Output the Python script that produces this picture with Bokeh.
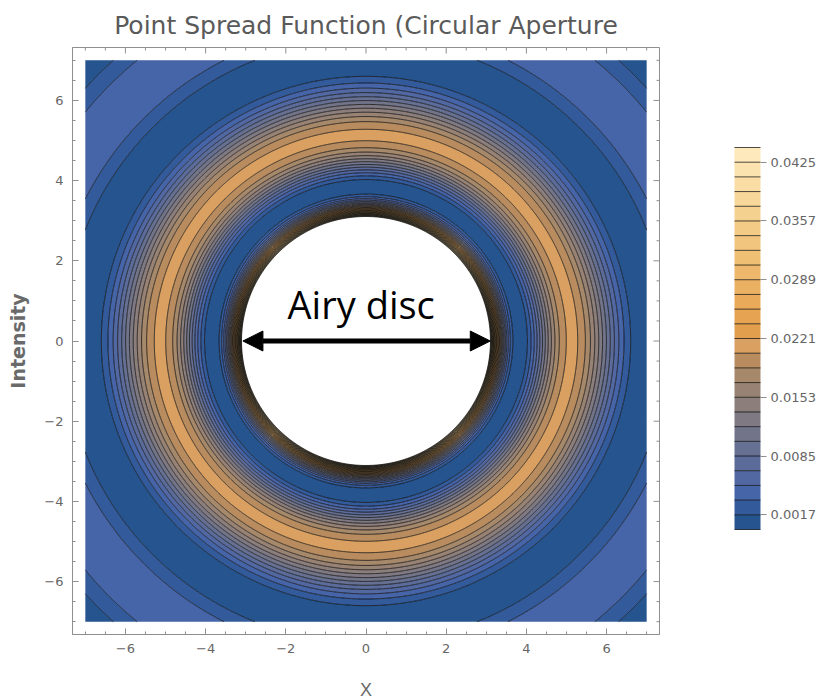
import numpy as np
from bokeh.plotting import figure
from bokeh.models import (Range1d, SingleIntervalTicker, FixedTicker,
                          PrintfTickFormatter, Arrow, NormalHead)
from bokeh.core.properties import value
from bokeh.embed import file_html
from bokeh.resources import INLINE

# ---------------- data ----------------
title_text = "Point Spread Function (Circular Aperture"
x_label = "X"
y_label = "Intensity"
x_extent = [-7.0, 7.0]
y_extent = [-7.0, 7.0]
frame_pad = 0.32
psf_scale = 1.19            # Airy pattern intensity factor
contour_levels = [0.0, 0.0017, 0.0034, 0.0051, 0.0068, 0.0085, 0.0102, 0.0119, 0.0136,
                  0.0153, 0.0170, 0.0187, 0.0204, 0.0221, 0.0238, 0.0255, 0.0272, 0.0289,
                  0.0306, 0.0323, 0.0340, 0.0357, 0.0374, 0.0391, 0.0408, 0.0425, 0.0442]
band_colors = ["#25548F", "#335B9B", "#4664A8", "#5168A2", "#5B6B9A", "#667092",
               "#72758A", "#7E7983", "#8B7E7B", "#978274", "#A6886A", "#B88C5E",
               "#D9A062", "#E29E4D", "#E6A452", "#E9AA59", "#EBB162", "#EDB86B",
               "#EFBF74", "#F1C57D", "#F3CB86", "#F5D190", "#F7D79A", "#F9DDA5",
               "#FBE3B0", "#FDE9BC"]
cbar_ticks = [0.0017, 0.0085, 0.0153, 0.0221, 0.0289, 0.0357, 0.0425]
major_ticks = [-6, -4, -2, 0, 2, 4, 6]
minor_ticks = [-7, -6.5, -5.5, -5, -4.5, -3.5, -3, -2.5, -1.5, -1, -0.5,
               0.5, 1, 1.5, 2.5, 3, 3.5, 4.5, 5, 5.5, 6.5, 7]
neg_tick_labels = {-6: "\u22126", -4: "\u22124", -2: "\u22122"}
airy_arrow_x = [-3.07, 3.10]
airy_arrow_y = [0.0, 0.0]
airy_label = ["Airy disc"]
airy_label_x = [-0.12]
airy_label_y = [0.92]

# ---------------- field: Airy PSF ----------------
xs = np.linspace(x_extent[0], x_extent[1], 561)
ys = np.linspace(y_extent[0], y_extent[1], 561)
X, Y = np.meshgrid(xs, ys)
R = np.hypot(X, Y)
tau = np.linspace(0.0, np.pi, 401)
h = tau[1] - tau[0]
acc = np.zeros_like(R)
for i, t in enumerate(tau):
    w = h * (0.5 if i in (0, len(tau) - 1) else 1.0)
    acc += w * np.cos(t - R * np.sin(t))
J1 = acc / np.pi
ratio = np.divide(2.0 * J1, R, out=np.ones_like(R), where=R > 1e-12)
Z = psf_scale * ratio ** 2

# ---------------- figure ----------------
x_lo, x_hi = x_extent[0] - frame_pad, x_extent[1] + frame_pad
y_lo, y_hi = y_extent[0] - frame_pad, y_extent[1] + frame_pad
p = figure(width=836, height=700, frame_width=587, frame_height=587,
           x_range=Range1d(x_lo, x_hi), y_range=Range1d(y_lo, y_hi),
           output_backend="svg", toolbar_location=None,
           min_border_left=72, min_border_top=47, min_border_bottom=66,
           min_border_right=177, title=title_text)
p.grid.visible = False
p.outline_line_color = "#8f8f8f"
p.background_fill_color = "white"
p.border_fill_color = "white"

p.title.text_font = "DejaVu Sans"
p.title.text_font_size = "25px"
p.title.text_font_style = "normal"
p.title.text_color = "#5a5a5a"
p.title.align = "center"
p.title.standoff = 15

cr = p.contour(X, Y, Z, contour_levels, fill_color=band_colors,
               line_color="black", line_alpha=0.7, line_width=1)

for ax in (p.xaxis[0], p.yaxis[0]):
    ax.ticker = SingleIntervalTicker(interval=2, num_minor_ticks=4)
    ax.axis_line_color = "#8f8f8f"
    ax.major_tick_line_color = "#8f8f8f"
    ax.minor_tick_line_color = "#8f8f8f"
    ax.major_tick_in = 6
    ax.major_tick_out = 0
    ax.minor_tick_in = 3
    ax.minor_tick_out = 0
    ax.major_label_text_font = "DejaVu Sans"
    ax.major_label_text_font_size = "13px"
    ax.major_label_text_color = "#666666"
    ax.major_label_standoff = 9
    ax.major_label_overrides = neg_tick_labels

p.xaxis[0].axis_label = x_label
p.xaxis[0].axis_label_text_font = "Liberation Sans"
p.xaxis[0].axis_label_text_font_size = "18px"
p.xaxis[0].axis_label_text_font_style = "normal"
p.xaxis[0].axis_label_text_color = "#6a6a6a"
p.xaxis[0].axis_label_standoff = 24

p.yaxis[0].axis_label = y_label
p.yaxis[0].axis_label_text_font = "DejaVu Sans"
p.yaxis[0].axis_label_text_font_size = "19px"
p.yaxis[0].axis_label_text_font_style = "bold"
p.yaxis[0].axis_label_text_color = "#6a6a6a"
p.yaxis[0].axis_label_standoff = 12

# frame ticks on the top and right edges (inward, like the bottom/left ones)
tick_col = "#8f8f8f"
p.ray(x=major_ticks, y=[y_hi] * len(major_ticks), length=6, length_units="screen",
      angle=-90, angle_units="deg", line_color=tick_col, line_width=1)
p.ray(x=minor_ticks, y=[y_hi] * len(minor_ticks), length=3, length_units="screen",
      angle=-90, angle_units="deg", line_color=tick_col, line_width=1)
p.ray(x=[x_hi] * len(major_ticks), y=major_ticks, length=6, length_units="screen",
      angle=180, angle_units="deg", line_color=tick_col, line_width=1)
p.ray(x=[x_hi] * len(minor_ticks), y=minor_ticks, length=3, length_units="screen",
      angle=180, angle_units="deg", line_color=tick_col, line_width=1)

cb = cr.construct_color_bar(
    width=26, height=382, location=(662, 105),
    margin=0, padding=0,
    major_label_text_font="DejaVu Sans",
    major_label_text_font_size="13px",
    major_label_text_color="#666666",
    major_tick_line_color="#8f8f8f",
    major_tick_out=6, major_tick_in=0,
    label_standoff=4,
    bar_line_color="#9a9a9a",
    border_line_color=None,
    background_fill_alpha=0.0,
)
cb.ticker = FixedTicker(ticks=cbar_ticks)
cb.formatter = PrintfTickFormatter(format="%.4f")
p.add_layout(cb, "center")

p.text(x=airy_label_x, y=airy_label_y, text=airy_label,
       text_font=value("Open Sans"), text_font_size="38px",
       text_align="center", text_baseline="alphabetic", text_color="black")

p.add_layout(Arrow(x_start=airy_arrow_x[0], y_start=airy_arrow_y[0],
                   x_end=airy_arrow_x[1], y_end=airy_arrow_y[1],
                   line_width=5, line_color="black",
                   start=NormalHead(size=20, fill_color="black", line_color="black"),
                   end=NormalHead(size=20, fill_color="black", line_color="black")))

open("out.html", "w").write(file_html(p, INLINE))
